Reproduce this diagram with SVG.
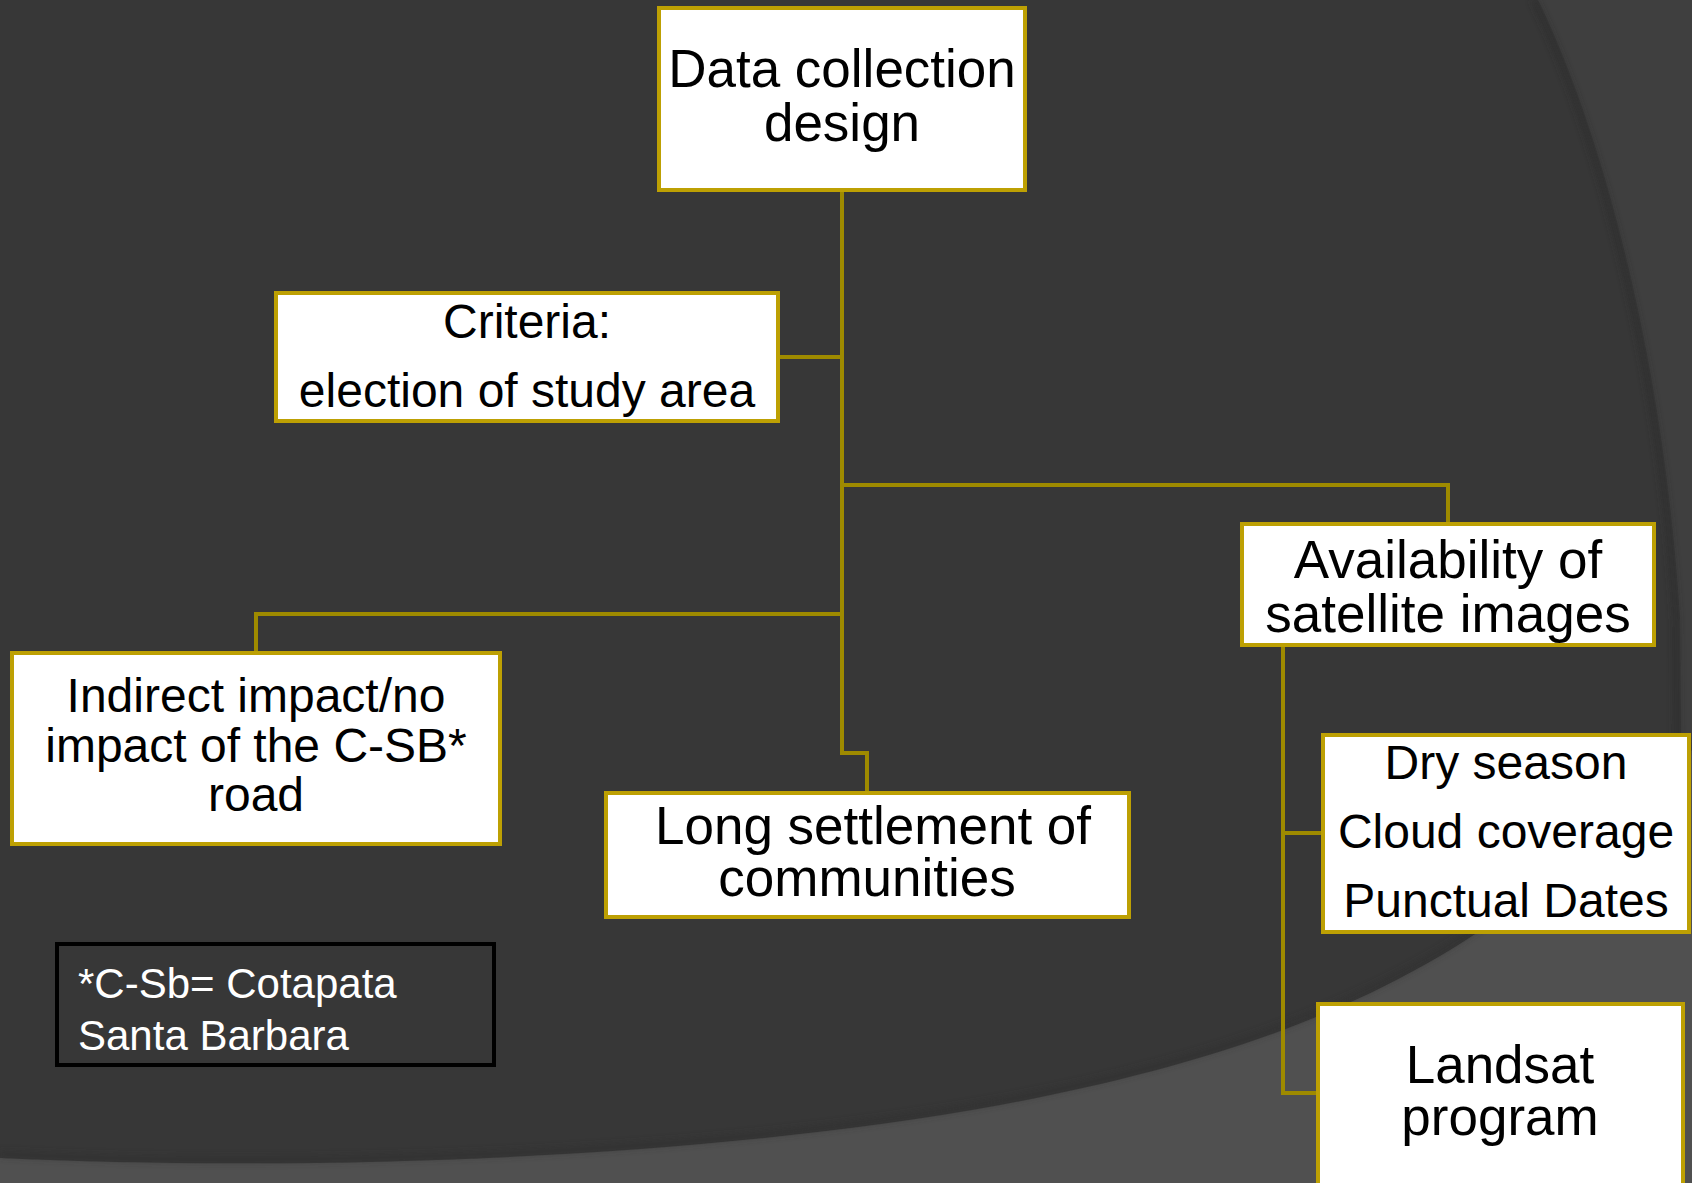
<svg xmlns="http://www.w3.org/2000/svg" width="1692" height="1183" viewBox="0 0 1692 1183">
<defs>
<style>
.box{fill:#ffffff;stroke:#BDA003;stroke-width:4}
.conn{fill:none;stroke:#9E8A00;stroke-width:4;stroke-linejoin:miter}
.t{font-family:"Liberation Sans",Arial,sans-serif;fill:#000000;text-anchor:middle}
.t53{font-size:53px}
.t48{font-size:48px}
.note{font-family:"Liberation Sans",Arial,sans-serif;fill:#ffffff;font-size:42px}
</style>
<filter id="blur" x="-10%" y="-10%" width="120%" height="120%"><feGaussianBlur stdDeviation="3"/></filter>
</defs>
<g id="background">
<rect x="0" y="0" width="1692" height="1183" fill="#373737"/>
<path d="M1538,0 C1610,150 1665,380 1680,620 L1684,1183 L1692,1183 L1692,0 Z" fill="#3f3f3f"/>
<path d="M1534,0 C1606,150 1661,380 1676,620 L1680,1183" fill="none" stroke="#2a2a2a" stroke-width="6" opacity="0.6" filter="url(#blur)"/>
<path d="M1618,935 C1610,960 1600,985 1597,1000" fill="none" stroke="#333" stroke-width="3" opacity="0.5"/>
<path d="M0,1158 C300,1172 700,1160 1000,1105 C1250,1058 1420,990 1560,870 L1692,750 L1692,1183 L0,1183 Z" fill="#505050"/>
<path d="M0,1154 C300,1168 700,1156 1000,1101 C1250,1054 1420,986 1560,866 L1692,746" fill="none" stroke="#2e2e2e" stroke-width="6" opacity="0.5" filter="url(#blur)"/>
</g>
<g id="connectors">
<path class="conn" d="M842,190 L842,753 L867,753 L867,793"/>
<path class="conn" d="M778,357 L842,357"/>
<path class="conn" d="M842,485 L1448,485 L1448,524"/>
<path class="conn" d="M842,614 L256,614 L256,653"/>
<path class="conn" d="M1283,645 L1283,1093 L1318,1093"/>
<path class="conn" d="M1283,833 L1323,833"/>
</g>
<g id="node-data-collection">
<rect class="box" x="659" y="8" width="366" height="182"/>
<text class="t t53" x="842" y="87">Data collection</text>
<text class="t t53" x="842" y="141">design</text>
</g>
<g id="node-criteria">
<rect class="box" x="276" y="293" width="502" height="128"/>
<text class="t t48" x="527" y="338">Criteria:</text>
<text class="t t48" x="527" y="407">election of study area</text>
</g>
<g id="node-availability">
<rect class="box" x="1242" y="524" width="412" height="121"/>
<text class="t t53" x="1448" y="578">Availability of</text>
<text class="t t53" x="1448" y="632">satellite images</text>
</g>
<g id="node-indirect">
<rect class="box" x="12" y="653" width="488" height="191"/>
<text class="t t48" x="256" y="712">Indirect impact/no</text>
<text class="t t48" x="256" y="762">impact of the C-SB*</text>
<text class="t t48" x="256" y="811">road</text>
</g>
<g id="node-long-settlement">
<rect class="box" x="606" y="793" width="523" height="124"/>
<text class="t t53" x="873" y="844">Long settlement of</text>
<text class="t t53" x="867" y="896">communities</text>
</g>
<g id="node-dry-season">
<rect class="box" x="1323" y="735" width="366" height="197"/>
<text class="t t48" x="1506" y="779">Dry season</text>
<text class="t t48" x="1506" y="848">Cloud coverage</text>
<text class="t t48" x="1506" y="917">Punctual Dates</text>
</g>
<g id="node-landsat">
<rect class="box" x="1318" y="1004" width="365" height="190"/>
<text class="t t53" x="1500" y="1083">Landsat</text>
<text class="t t53" x="1500" y="1135">program</text>
</g>
<g id="note">
<rect x="57" y="944" width="437" height="121" fill="none" stroke="#000000" stroke-width="4"/>
<text class="note" x="78" y="998">*C-Sb= Cotapata</text>
<text class="note" x="78" y="1050">Santa Barbara</text>
</g>
</svg>
